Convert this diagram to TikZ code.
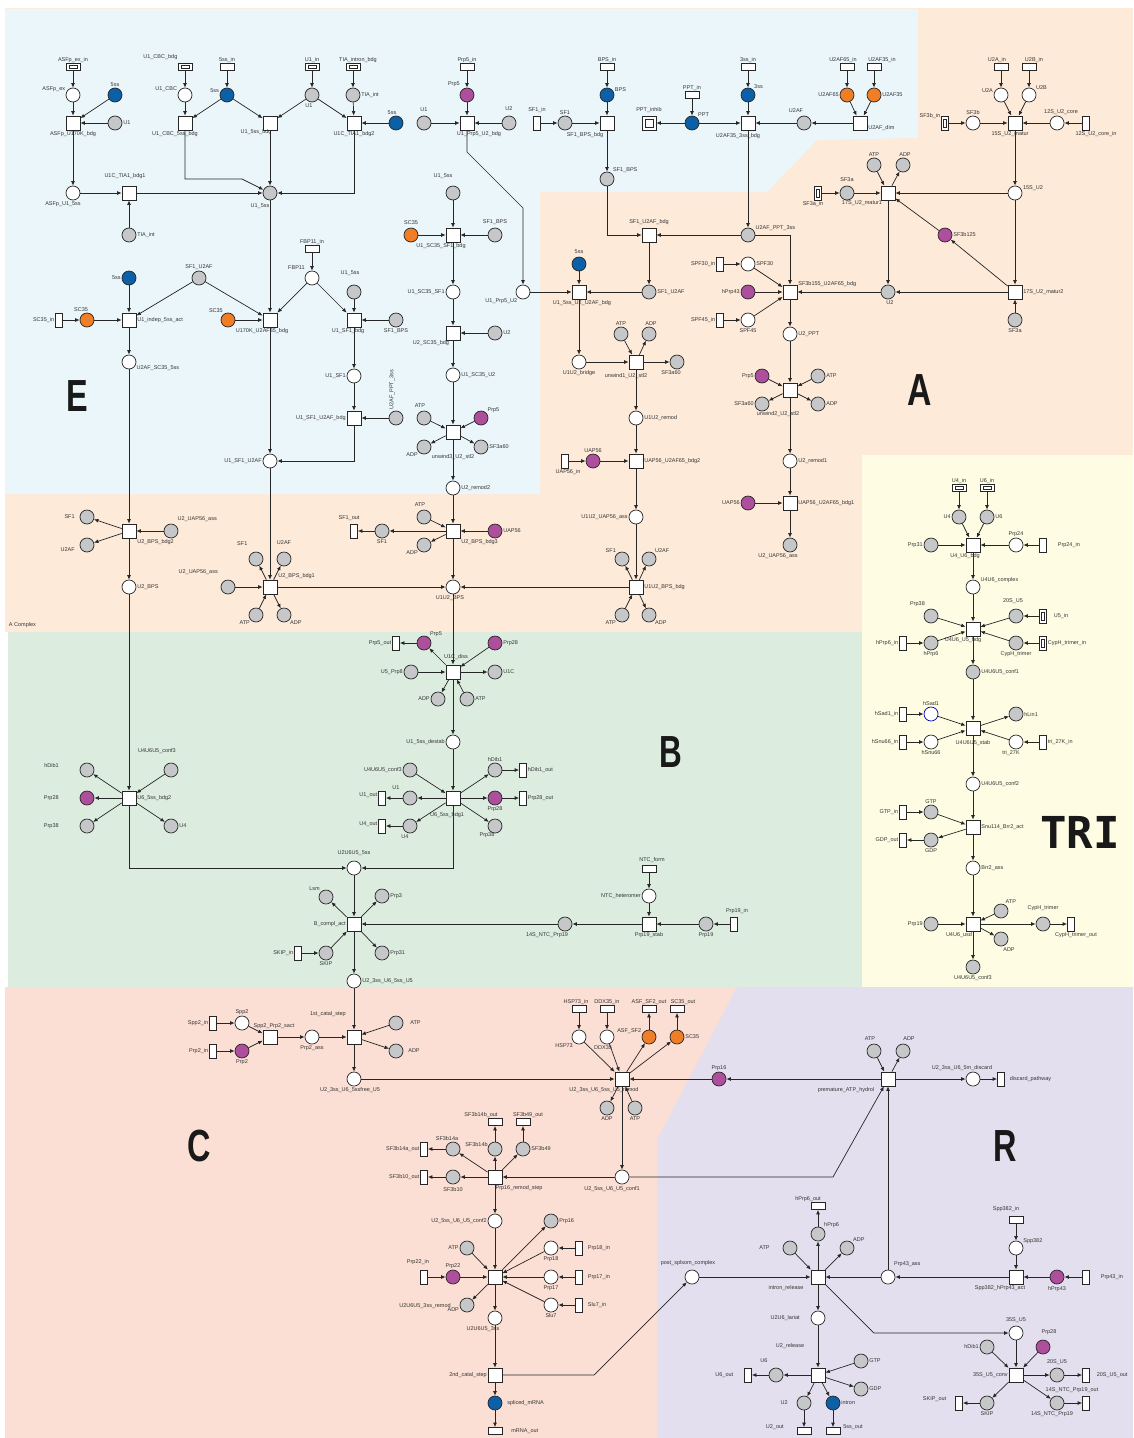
\documentclass[tikz,border=0pt]{standalone}
\usepackage{fontspec}
\setmainfont{Liberation Sans}
\newfontfamily\monobold{DejaVu Sans Mono}
\usetikzlibrary{arrows.meta}
\definecolor{tgray}{HTML}{C6C7C9}
\definecolor{tblue}{HTML}{0C60A8}
\definecolor{torange}{HTML}{F07E26}
\definecolor{tpurple}{HTML}{AE4F9D}
\definecolor{bgE}{HTML}{EBF6FB}
\definecolor{bgA}{HTML}{FDEAD9}
\definecolor{bgB}{HTML}{DCEDE0}
\definecolor{bgT}{HTML}{FEFDE4}
\definecolor{bgC}{HTML}{FBDED4}
\definecolor{bgR}{HTML}{E4DFEE}
\catcode`\_=12
\begin{document}
\begin{tikzpicture}[x=1pt,y=-1pt,
  lab/.style={font=\fontsize{5.5}{6.5}\selectfont, text=black!80, inner sep=0.8pt},
  lN/.style={label={[lab]90:#1}}, lS/.style={label={[lab]270:#1}},
  lW/.style={label={[lab]180:#1}}, lE/.style={label={[lab]0:#1}},
  lNW/.style={label={[lab]135:#1}}, lNE/.style={label={[lab]45:#1}},
  lSW/.style={label={[lab]225:#1}}, lSE/.style={label={[lab]315:#1}},
  nbase/.style={draw=black!85, line width=0.7pt, inner sep=0pt},
  place/.style={nbase, circle, minimum size=14pt},
  pw/.style={place, fill=white}, pg/.style={place, fill=tgray}, pbl/.style={place, fill=tblue},
  por/.style={place, fill=torange}, ppu/.style={place, fill=tpurple},
  trn/.style={nbase, rectangle, fill=white, minimum size=14pt},
  ioh/.style={nbase, rectangle, fill=white, minimum width=14pt, minimum height=7pt},
  iov/.style={nbase, rectangle, fill=white, minimum width=7pt, minimum height=14pt},
  inner box/.style 2 args={path picture={\draw[black!85, line width=0.5pt]
      ([shift={(#1,#2)}]path picture bounding box.south west) rectangle
      ([shift={(-#1,-#2)}]path picture bounding box.north east);}},
  iohd/.style={ioh, inner box={3pt}{2pt}},
  iovd/.style={iov, inner box={2pt}{3pt}},
  iosq/.style={trn, inner box={3pt}{3pt}},
  ar/.style={draw=black!85, line width=0.7pt, -{Latex[length=4.5pt,width=3.8pt]}},
  big/.style={font=\bfseries\fontsize{45}{45}\selectfont, text=black!90, inner sep=0pt}
]
\useasboundingbox (0,0) rectangle (1133,1438);
% ---------- background areas ----------
\fill[bgA] (5,8) rectangle (1133,632);
\fill[bgE] (5,9) -- (918,9) -- (918,138) -- (817,140) -- (767,192) -- (540,192) -- (540,494) -- (5,494) -- cycle;
\fill[bgB] (8,632) rectangle (863,987);
\fill[bgT] (862,455) rectangle (1133,987);
\fill[bgC] (5,987) rectangle (1133,1438);
\fill[bgR] (737,987) -- (1133,987) -- (1133,1438) -- (657,1438) -- (657,1140) -- cycle;

\node[big] (tE) at (77,396) {\scalebox{0.72}[1]{E}};
\node[big] (tA) at (920,390) {\scalebox{0.75}[1]{A}};
\node[big] (tB) at (671,752) {\scalebox{0.7}[1]{B}};
\node[big] (tC) at (199,1146) {\scalebox{0.72}[1]{C}};
\node[big] (tR) at (1005,1146) {\scalebox{0.72}[1]{R}};
\node[font=\monobold\bfseries\fontsize{44}{44}\selectfont, text=black!90, inner sep=0pt] (tT) at (1080,832) {TRI};
\node[lab, anchor=west] (acx) at (8,625) {A Complex};

% ---------- E complex ----------
\node[iohd, lN=ASFp_ex_in] (asfpin) at (73,67) {};
\node[pw, label={[lab]160:ASFp_ex}] (asfpex) at (73,95) {};
\node[pbl, lN=5ss] (s5a) at (115,95) {};
\node[pg, lE=U1] (u1a) at (115,123) {};
\node[trn, lS=ASFp_U170K_bdg] (asfpbdg) at (73,123) {};
\node[pw, label={[lab,xshift=-10pt]270:ASFp_U1_5ss}] (asfpu1) at (73,193) {};
\node[trn, label={[lab,yshift=6pt,xshift=-4pt]90:U1C_TIA1_bdg1}] (tiabdg1) at (129,193) {};
\node[pg, lE=TIA_int] (tiaint1) at (129,235) {};
\node[iohd, label={[lab,yshift=3pt]150:U1_CBC_bdg}] (u1cbcin) at (185,67) {};
\node[pw, label={[lab]160:U1_CBC}] (u1cbc) at (185,95) {};
\node[ioh, lN=5ss_in] (s5in) at (227,67) {};
\node[pbl, label={[lab]165:5ss}] (s5b) at (227,95) {};
\node[trn, label={[lab,xshift=-10pt]270:U1_CBC_5ss_bdg}] (u1cbcbdg) at (185,123) {};
\node[trn, label={[lab,xshift=-14pt,yshift=2pt]270:U1_5ss_bdg}] (u15bdg) at (270,123) {};
\node[iohd, lN=U1_in] (u1in) at (312,67) {};
\node[pg, label={[lab,xshift=-3pt]270:U1}] (u1b) at (312,95) {};
\node[iohd, label={[lab,xshift=5pt]90:TIA_intron_bdg}] (tiain) at (353,67) {};
\node[pg, lE=TIA_int] (tiaint2) at (353,95) {};
\node[trn, lS=U1C_TIA1_bdg2] (tiabdg2) at (354,123) {};
\node[pbl, label={[lab,xshift=-4pt]90:5ss}] (s5c) at (396,123) {};
\node[pg, label={[lab,xshift=-10pt,yshift=-2pt]270:U1_5ss}] (u15a) at (270,193) {};

\node[pbl, lW=5ss] (s5d) at (129,278) {};
\node[pg, lN=SF1_U2AF] (sf1u2afa) at (199,278) {};
\node[iov, lW=SC35_in] (sc35in) at (59,320) {};
\node[por, label={[lab,xshift=-6pt]90:SC35}] (sc35a) at (87,320) {};
\node[trn, lE=U1_indep_5ss_act] (u1indep) at (129,320) {};
\node[por, label={[lab]125:SC35}] (sc35b) at (228,320) {};
\node[trn, label={[lab,xshift=-8pt]270:U170K_U2AF35_bdg}] (u170k) at (270,320) {};
\node[ioh, lN=FBP11_in] (fbp11in) at (312,249) {};
\node[pw, label={[lab,yshift=4pt]150:FBP11}] (fbp11) at (312,278) {};
\node[pg, label={[lab,yshift=8pt,xshift=-4pt]90:U1_5ss}] (u15b) at (354,292) {};
\node[trn, label={[lab,xshift=-6pt]270:U1_SF1_bdg}] (u1sf1bdg) at (354,320) {};
\node[pw, label={[lab]-25:U2AF_SC35_5ss}] (u2afsc35) at (129,362) {};

\node[ioh, lN=Prp5_in] (prp5in) at (467,67) {};
\node[ppu, label={[lab,yshift=4pt]150:Prp5}] (prp5a) at (467,95) {};
\node[pg, label={[lab,yshift=3pt]90:U1}] (u1c) at (424,123) {};
\node[trn, label={[lab,xshift=12pt]270:U1_Prp5_U2_bdg}] (u1prp5bdg) at (467,123) {};
\node[pg, label={[lab,yshift=4pt]90:U2}] (u2a) at (509,123) {};
\node[iov, label={[lab,yshift=2pt]90:SF1_in}] (sf1in) at (537,123) {};
\node[pg, lN=SF1] (sf1a) at (565,123) {};
\node[ioh, lN=BPS_in] (bpsin) at (607,67) {};
\node[pbl, label={[lab]20:BPS}] (bps) at (607,95) {};
\node[trn, label={[lab,xshift=-22pt,yshift=-1pt]270:SF1_BPS_bdg}] (sf1bpsbdg) at (607,123) {};
\node[pg, lNE=SF1_BPS] (sf1bpsa) at (607,179) {};
\node[ioh, lN=PPT_in] (pptin) at (692,95) {};
\node[pbl, lNE=PPT] (ppt) at (692,123) {};
\node[iosq, label={[lab,yshift=2pt]90:PPT_inhib}] (pptinhib) at (649,123) {};
\node[ioh, lN=3ss_in] (s3in) at (748,67) {};
\node[pbl, lNE=3ss] (s3) at (748,95) {};
\node[trn, label={[lab,xshift=-10pt,yshift=-2pt]270:U2AF35_3ss_bdg}] (u2af35bdg) at (748,123) {};
\node[pg, label={[lab,xshift=-10pt,yshift=6pt]90:U1_5ss}] (u15c) at (453,193) {};
\node[por, label={[lab,yshift=2pt]90:SC35}] (sc35c) at (411,235) {};
\node[trn, label={[lab,xshift=-12pt]270:U1_SC35_SF1_bdg}] (u1sc35sf1bdg) at (453,235) {};
\node[pg, label={[lab,yshift=2pt]90:SF1_BPS}] (sf1bpsb) at (495,235) {};
\node[pw, lW=U1_SC35_SF1] (u1sc35sf1) at (453,292) {};
\node[pg, lS=SF1_BPS] (sf1bpsc) at (396,320) {};
\node[trn, label={[lab,xshift=-22pt,yshift=1pt]270:U2_SC35_bdg}] (u2sc35bdg) at (453,333) {};
\node[pg, lE=U2] (u2b) at (495,333) {};
\node[pw, label={[lab]230:U1_Prp5_U2}] (u1prp5u2) at (523,292) {};

% ---------- A complex ----------
\node[pg, label={[lab,xshift=-8pt,yshift=2pt]90:U2AF}] (u2afa) at (804,123) {};
\node[ioh, label={[lab,xshift=-4pt]90:U2AF65_in}] (u2af65in) at (847,67) {};
\node[ioh, label={[lab,xshift=8pt]90:U2AF35_in}] (u2af35in) at (874,67) {};
\node[por, lW=U2AF65] (u2af65) at (847,95) {};
\node[por, lE=U2AF35] (u2af35) at (874,95) {};
\node[trn, label={[lab]-10:U2AF_dim}] (u2afdim) at (860,123) {};
\node[ioh, label={[lab,xshift=-4pt]90:U2A_in}] (u2ain) at (1001,67) {};
\node[ioh, label={[lab,xshift=5pt]90:U2B_in}] (u2bin) at (1029,67) {};
\node[pw, label={[lab]165:U2A}] (u2aa) at (1001,95) {};
\node[pw, label={[lab]35:U2B}] (u2bb) at (1029,95) {};
\node[iovd, label={[lab]135:SF3b_in}] (sf3bin) at (945,123) {};
\node[pw, lN=SF3b] (sf3b) at (973,123) {};
\node[trn, label={[lab,xshift=-5pt]270:15S_U2_matur}] (m15) at (1015,123) {};
\node[pw, label={[lab,xshift=4pt]90:12S_U2_core}] (c12) at (1057,123) {};
\node[iov, label={[lab,xshift=10pt]270:12S_U2_core_in}] (c12in) at (1086,123) {};
\node[pg, lN=ATP] (atpa) at (874,165) {};
\node[pg, label={[lab,xshift=2pt]90:ADP}] (adpa) at (903,165) {};
\node[iovd, label={[lab,xshift=-5pt]270:SF3a_in}] (sf3ain) at (818,193) {};
\node[pg, label={[lab,yshift=3pt]90:SF3a}] (sf3a) at (847,193) {};
\node[trn, label={[lab,xshift=-26pt,yshift=1pt]270:17S_U2_matur1}] (m17a) at (888,193) {};
\node[pw, label={[lab]15:15S_U2}] (u215) at (1015,193) {};
\node[ppu, lE=SF3b125] (sf3b125) at (945,235) {};
\node[trn, label={[lab,yshift=2pt]90:SF1_U2AF_bdg}] (sf1u2afbdg) at (649,235) {};
\node[pg, label={[lab]25:U2AF_PPT_3ss}] (u2afppt) at (748,235) {};
\node[pbl, label={[lab,yshift=2pt]90:5ss}] (s5e) at (579,264) {};
\node[trn, label={[lab,xshift=3pt]270:U1_5ss_U2_U2AF_bdg}] (u1u2afbdg) at (579,292) {};
\node[pg, lE=SF1_U2AF] (sf1u2afb) at (649,292) {};
\node[iov, lW=SPF30_in] (spf30in) at (720,264) {};
\node[pw, lE=SPF30] (spf30) at (748,264) {};
\node[ppu, lW=hPrp43] (hprp43a) at (748,292) {};
\node[iov, lW=SPF45_in] (spf45in) at (720,320) {};
\node[pw, lS=SPF45] (spf45) at (748,320) {};
\node[trn, label={[lab]30:SF3b155_U2AF65_bdg}] (sf3b155) at (790,292) {};
\node[pg, label={[lab,xshift=2pt]270:U2}] (u2c) at (888,292) {};
\node[trn, lE=17S_U2_matur2] (m17b) at (1015,292) {};
\node[pg, lS=SF3a] (sf3aa) at (1015,320) {};
\node[pw, lE=U2_PPT] (u2ppt) at (790,334) {};
\node[pg, lN=ATP] (atpb) at (621,334) {};
\node[pg, label={[lab,xshift=2pt]90:ADP}] (adpb) at (649,334) {};

\node[pw, lW=U1_SF1] (u1sf1) at (354,376) {};
\node[trn, lW=U1_SF1_U2AF_bdg] (u1sf1u2afbdg) at (354,418) {};
\node[pg, label={[lab,rotate=90,anchor=west,label distance=4pt]90:U2AF_PPT_3ss}] (u2afppt2) at (396,418) {};
\node[pw, lW=U1_SF1_U2AF] (u1sf1u2af) at (270,461) {};
\node[pw, lE=U1_SC35_U2] (u1sc35u2) at (453,375) {};
\node[pg, label={[lab,xshift=-4pt,yshift=2pt]90:ATP}] (atpc) at (424,418) {};
\node[ppu, label={[lab]40:Prp5}] (prp5b) at (481,418) {};
\node[trn, label={[lab,yshift=-14pt]270:unwind3_U2_stl2}] (unw3) at (453,432) {};
\node[pg, lSW=ADP] (adpc) at (424,447) {};
\node[pg, lE=SF3a60] (sf3a60a) at (481,447) {};
\node[pw, lE=U2_remod2] (u2remod2) at (453,488) {};
\node[pg, label={[lab,xshift=-4pt,yshift=2pt]90:ATP}] (atpd) at (424,517) {};
\node[trn, lSE=U2_BPS_bdg3] (bdg3) at (453,531) {};
\node[pg, lSW=ADP] (adpd) at (424,545) {};
\node[ppu, lE=UAP56] (uap56a) at (495,531) {};
\node[pg, lS=SF1] (sf1b) at (382,531) {};
\node[iov, label={[lab,xshift=-5pt,yshift=2pt]90:SF1_out}] (sf1out) at (354,531) {};
\node[pw, label={[lab,xshift=-3pt]270:U1U2_BPS}] (u1u2bps) at (453,587) {};
\node[pw, lS=U1U2_bridge] (u1u2bridge) at (579,362) {};
\node[trn, label={[lab,xshift=-10pt,yshift=-3pt]270:unwind1_U2_stl2}] (unw1) at (636,362) {};
\node[pg, label={[lab,xshift=-6pt]270:SF3a60}] (sf3a60b) at (677,362) {};
\node[pw, lE=U1U2_remod] (u1u2remod) at (636,418) {};
\node[iov, label={[lab,xshift=3pt]270:UAP56_in}] (uap56in) at (565,461) {};
\node[ppu, lN=UAP56] (uap56b) at (593,461) {};
\node[trn, lE=UAP56_U2AF65_bdg2] (uapbdg2) at (636,461) {};
\node[pw, lW=U1U2_UAP56_ass] (u1u2uap) at (636,517) {};
\node[trn, lE=U1U2_BPS_bdg] (u1u2bpsbdg) at (636,587) {};
\node[pg, lNW=SF1] (sf1c) at (622,559) {};
\node[pg, lNE=U2AF] (u2afb) at (649,559) {};
\node[pg, lSW=ATP] (atpe) at (622,615) {};
\node[pg, lSE=ADP] (adpe) at (649,615) {};

\node[ppu, lW=Prp5] (prp5c) at (762,376) {};
\node[trn, label={[lab,xshift=-12pt,yshift=-13pt]270:unwind2_U2_stl2}] (unw2) at (790,390) {};
\node[pg, lE=ATP] (atpf) at (818,376) {};
\node[pg, lW=SF3a60] (sf3a60c) at (762,404) {};
\node[pg, lE=ADP] (adpf) at (818,404) {};
\node[pw, lE=U2_remod1] (u2remod1) at (790,461) {};
\node[ppu, lW=UAP56] (uap56c) at (748,503) {};
\node[trn, lE=UAP56_U2AF65_bdg1] (uapbdg1) at (790,503) {};
\node[pg, label={[lab,xshift=-12pt]270:U2_UAP56_ass}] (u2uapa) at (790,545) {};

\node[trn, lSE=U2_BPS_bdg2] (u2bpsbdg2) at (129,531) {};
\node[pg, label={[lab,xshift=-4pt]180:SF1}] (sf1d) at (87,517) {};
\node[pg, label={[lab,xshift=-4pt]190:U2AF}] (u2afc) at (87,545) {};
\node[pg, label={[lab,yshift=4pt]40:U2_UAP56_ass}] (u2uapb) at (171,531) {};
\node[pw, lE=U2_BPS] (u2bps) at (129,587) {};
\node[trn, lNE=U2_BPS_bdg1] (u2bpsbdg1) at (270,587) {};
\node[pg, label={[lab,yshift=6pt,xshift=-4pt]120:SF1}] (sf1e) at (256,559) {};
\node[pg, label={[lab,yshift=6pt]90:U2AF}] (u2afd) at (284,559) {};
\node[pg, label={[lab,yshift=6pt,xshift=-4pt]135:U2_UAP56_ass}] (u2uapc) at (228,587) {};
\node[pg, lSW=ATP] (atpg) at (256,615) {};
\node[pg, lSE=ADP] (adpg) at (284,615) {};

% ---------- B complex ----------
\node[trn, label={[lab,yshift=4pt,xshift=3pt]90:U1C_diss}] (u1cdiss) at (453,672) {};
\node[ppu, lNE=Prp5] (prp5d) at (424,643) {};
\node[iov, lW=Prp5_out] (prp5out) at (396,643) {};
\node[ppu, lE=Prp28] (prp28a) at (495,643) {};
\node[pg, lW=U5_Prp8] (u5prp8) at (411,672) {};
\node[pg, lE=U1C] (u1cc) at (495,672) {};
\node[pg, lW=ADP] (adph) at (438,699) {};
\node[pg, lE=ATP] (atph) at (467,699) {};
\node[pw, lW=U1_5ss_destab] (u15destab) at (453,742) {};
\node[trn, label={[lab,xshift=-6pt,yshift=-6pt]270:U6_5ss_bdg1}] (u6bdg1) at (453,798) {};
\node[pg, lW=U4U6U5_conf3] (u4u6u5c3a) at (410,770) {};
\node[pg, lN=hDib1] (hdib1a) at (495,770) {};
\node[iov, lE=hDib1_out] (hdib1out) at (523,770) {};
\node[pg, label={[lab,xshift=-14pt]90:U1}] (u1d) at (410,798) {};
\node[iov, label={[lab,yshift=3pt]180:U1_out}] (u1out) at (382,798) {};
\node[ppu, lS=Prp28] (prp28b) at (495,798) {};
\node[iov, lE=Prp28_out] (prp28out) at (523,798) {};
\node[pg, label={[lab,xshift=-5pt]270:U4}] (u4a) at (410,826) {};
\node[iov, label={[lab,yshift=2pt]180:U4_out}] (u4out) at (382,826) {};
\node[pg, label={[lab,xshift=-8pt,yshift=2pt]270:Prp38}] (prp38a) at (495,826) {};
\node[trn, lE=U6_5ss_bdg2] (u6bdg2) at (129,798) {};
\node[pg, label={[lab,xshift=-20pt,yshift=4pt]180:hDib1}] (hdib1b) at (87,770) {};
\node[pg, label={[lab,yshift=8pt,xshift=-14pt]90:U4U6U5_conf3}] (u4u6u5c3b) at (171,770) {};
\node[ppu, label={[lab,xshift=-20pt]180:Prp28}] (prp28c) at (87,798) {};
\node[pg, label={[lab,xshift=-20pt]180:Prp38}] (prp38b) at (87,826) {};
\node[pg, lE=U4] (u4b) at (171,826) {};
\node[pw, label={[lab,yshift=4pt]90:U2U6U5_5ss}] (u2u6u5) at (354,868) {};
\node[trn, lW=B_compl_act] (bcompl) at (354,924) {};
\node[pg, lNW=Lsm] (lsm) at (326,897) {};
\node[pg, lE=Prp3] (prp3) at (382,896) {};
\node[pg, lE=Prp31] (prp31a) at (382,953) {};
\node[iov, lW=SKIP_in] (skipin) at (298,953) {};
\node[pg, lS=SKIP] (skip) at (326,953) {};
\node[pg, label={[lab,xshift=-18pt]270:14S_NTC_Prp19}] (ntc14) at (565,924) {};
\node[pw, lE=U2_3ss_U6_5ss_U5] (u23) at (354,981) {};
\node[ioh, label={[lab,xshift=3pt,yshift=2pt]90:NTC_form}] (ntcform) at (649,869) {};
\node[pw, lW=NTC_heteromer] (ntchet) at (649,896) {};
\node[trn, lS=Prp19_stab] (prp19stab) at (649,924) {};
\node[pg, lS=Prp19] (prp19a) at (706,924) {};
\node[iov, label={[lab,xshift=3pt,yshift=2pt]90:Prp19_in}] (prp19in) at (734,924) {};

% ---------- tri-snRNP ----------
\node[iohd, lN=U4_in] (u4in) at (959,488) {};
\node[iohd, lN=U6_in] (u6in) at (987,488) {};
\node[pg, lW=U4] (u4c) at (959,517) {};
\node[pg, lE=U6] (u6c) at (987,517) {};
\node[trn, label={[lab,xshift=-8pt]270:U4_U6_bdg}] (u4u6bdg) at (973,545) {};
\node[pg, lW=Prp31] (prp31b) at (931,545) {};
\node[pw, lN=Prp24] (prp24) at (1016,545) {};
\node[iov, label={[lab,xshift=10pt]0:Prp24_in}] (prp24in) at (1043,545) {};
\node[pw, label={[lab]25:U4U6_complex}] (u4u6cx) at (973,587) {};
\node[pg, label={[lab,yshift=3pt]135:Prp38}] (prp38c) at (931,616) {};
\node[pg, label={[lab,yshift=4pt,xshift=-3pt]90:20S_U5}] (s20u5) at (1016,616) {};
\node[iovd, label={[lab,xshift=6pt]0:U5_in}] (u5in) at (1043,616) {};
\node[trn, label={[lab,xshift=-10pt]270:U4U6_U5_bdg}] (u4u6u5bdg) at (973,629) {};
\node[iov, lW=hPrp6_in] (hprp6in) at (903,643) {};
\node[pg, lS=hPrp6] (hprp6a) at (931,643) {};
\node[pg, lS=CypH_trimer] (cyph) at (1016,643) {};
\node[iovd, lE=CypH_trimer_in] (cyphin) at (1043,643) {};
\node[pg, lE=U4U6U5_conf1] (c1) at (973,672) {};
\node[iov, lW=hSad1_in] (hsad1in) at (903,714) {};
\node[pw, draw=blue!70!black, lN=hSad1] (hsad1) at (931,714) {};
\node[trn, label={[lab,yshift=-4pt]270:U4U6U5_stab}] (stab) at (973,728) {};
\node[pg, lE=hLin1] (hlin1) at (1016,714) {};
\node[iov, lW=hSnu66_in] (hsnu66in) at (903,742) {};
\node[pw, lS=hSnu66] (hsnu66) at (931,742) {};
\node[pw, label={[lab,xshift=-5pt]270:tri_27K}] (tri27k) at (1016,742) {};
\node[iov, lE=tri_27K_in] (tri27kin) at (1043,742) {};
\node[pw, lE=U4U6U5_conf2] (c2) at (973,784) {};
\node[iov, lW=GTP_in] (gtpin) at (903,812) {};
\node[pg, lN=GTP] (gtpa) at (931,812) {};
\node[trn, lE=Snu114_Brr2_act] (snu) at (973,827) {};
\node[iov, lW=GDP_out] (gdpout) at (903,840) {};
\node[pg, lS=GDP] (gdpa) at (931,840) {};
\node[pw, lE=Brr2_ass] (brr2) at (973,868) {};
\node[pg, label={[lab]60:ATP}] (atpi) at (1001,911) {};
\node[pg, label={[lab,yshift=5pt]90:CypH_trimer}] (cyph2) at (1043,924) {};
\node[iov, label={[lab,xshift=5pt]270:CypH_trimer_out}] (cyphout) at (1071,924) {};
\node[pg, lW=Prp19] (prp19b) at (931,924) {};
\node[trn, label={[lab,xshift=-14pt]270:U4U6_usd}] (usd) at (973,924) {};
\node[pg, label={[lab,xshift=8pt]270:ADP}] (adpi) at (1001,939) {};
\node[pg, lS=U4U6U5_conf3] (c3) at (973,967) {};

% ---------- C complex ----------
\node[iov, lW=Spp2_in] (spp2in) at (213,1023) {};
\node[pw, lN=Spp2] (spp2) at (242,1023) {};
\node[trn, label={[lab,xshift=4pt]90:Spp2_Prp2_sact}] (sact) at (270,1037) {};
\node[iov, lW=Prp2_in] (prp2in) at (213,1051) {};
\node[ppu, lS=Prp2] (prp2) at (242,1051) {};
\node[pw, lS=Prp2_ass] (prp2ass) at (312,1037) {};
\node[trn, label={[lab,yshift=12pt]135:1st_catal_step}] (cat1) at (354,1037) {};
\node[pg, label={[lab,xshift=6pt]0:ATP}] (atpj) at (396,1023) {};
\node[pg, label={[lab,xshift=4pt]0:ADP}] (adpj) at (396,1051) {};
\node[pw, label={[lab,xshift=-4pt]270:U2_3ss_U6_5ssfree_U5}] (free) at (354,1079) {};
\node[ioh, label={[lab,xshift=-3pt]90:HSP73_in}] (hsp73in) at (579,1009) {};
\node[ioh, lN=DDX35_in] (ddx35in) at (607,1009) {};
\node[ioh, lN=ASF_SF2_out] (asfout) at (649,1009) {};
\node[ioh, label={[lab,xshift=6pt]90:SC35_out}] (sc35out) at (677,1009) {};
\node[pw, lSW=HSP73] (hsp73) at (579,1037) {};
\node[pw, label={[lab,xshift=-4pt]270:DDX35}] (ddx35) at (607,1037) {};
\node[por, label={[lab]160:ASF_SF2}] (asf) at (649,1037) {};
\node[por, lE=SC35] (sc35d) at (677,1037) {};
\node[trn, label={[lab,xshift=-18pt]270:U2_3ss_U6_5ss_U5_remod}] (remod) at (622,1079) {};
\node[pg, lS=ADP] (adpk) at (607,1108) {};
\node[pg, lS=ATP] (atpk) at (635,1108) {};
\node[ppu, lN=Prp16] (prp16a) at (719,1079) {};
\node[trn, label={[lab,xshift=-42pt]270:premature_ATP_hydrol}] (prem) at (888,1079) {};
\node[pg, label={[lab,xshift=-4pt,yshift=2pt]90:ATP}] (atpl) at (874,1051) {};
\node[pg, label={[lab,xshift=6pt,yshift=2pt]90:ADP}] (adpl) at (903,1051) {};
\node[pw, label={[lab,xshift=-11pt]90:U2_3ss_U6_5m_discard}] (discard) at (973,1079) {};
\node[iov, label={[lab,xshift=4pt]0:discard_pathway}] (discardp) at (1001,1079) {};
\node[pw, label={[lab,xshift=-10pt,yshift=-1pt]270:U2_5ss_U6_U5_conf1}] (conf1) at (622,1177) {};
\node[trn, label={[lab,xshift=24pt]270:Prp16_remod_step}] (p16step) at (495,1177) {};
\node[iov, lW=SF3b14a_out] (sf3b14aout) at (424,1149) {};
\node[pg, label={[lab,xshift=-6pt]90:SF3b14a}] (sf3b14a) at (453,1149) {};
\node[pg, label={[lab,yshift=-2pt]150:SF3b14b}] (sf3b14b) at (495,1149) {};
\node[ioh, label={[lab,xshift=-14pt]90:SF3b14b_out}] (sf3b14bout) at (495,1122) {};
\node[pg, lE=SF3b49] (sf3b49) at (523,1149) {};
\node[ioh, label={[lab,xshift=5pt]90:SF3b49_out}] (sf3b49out) at (523,1122) {};
\node[iov, lW=SF3b10_out] (sf3b10out) at (424,1177) {};
\node[pg, label={[lab,yshift=-2pt]270:SF3b10}] (sf3b10) at (453,1177) {};
\node[pw, lW=U2_5ss_U6_U5_conf2] (conf2) at (495,1221) {};
\node[trn, label={[lab,xshift=-70pt,yshift=-18pt]270:U2U6U5_3ss_remod}] (r3) at (495,1277) {};
\node[pg, lW=ATP] (atpm) at (467,1248) {};
\node[iov, label={[lab,xshift=-6pt,yshift=4pt]90:Prp22_in}] (prp22in) at (424,1277) {};
\node[ppu, lN=Prp22] (prp22) at (453,1277) {};
\node[pg, label={[lab]195:ADP}] (adpm) at (467,1305) {};
\node[pg, lE=Prp16] (prp16b) at (551,1221) {};
\node[pw, lS=Prp18] (prp18) at (551,1248) {};
\node[iov, label={[lab,xshift=4pt]0:Prp18_in}] (prp18in) at (579,1248) {};
\node[pw, lS=Prp17] (prp17) at (551,1277) {};
\node[iov, label={[lab,xshift=4pt]0:Prp17_in}] (prp17in) at (579,1277) {};
\node[pw, lS=Slu7] (slu7) at (551,1305) {};
\node[iov, label={[lab,xshift=4pt]0:Slu7_in}] (slu7in) at (579,1305) {};
\node[pw, label={[lab,xshift=-12pt]270:U2U6U5_3ss}] (u2u6u53) at (495,1318) {};
\node[trn, lW=2nd_catal_step] (cat2) at (495,1375) {};
\node[pbl, label={[lab,xshift=4pt]0:spliced_mRNA}] (mrna) at (495,1403) {};
\node[ioh, label={[lab,xshift=8pt]0:mRNA_out}] (mrnaout) at (495,1431) {};
\node[pw, label={[lab,yshift=3pt,xshift=-4pt]90:post_splsom_complex}] (post) at (692,1277) {};

% ---------- release ----------
\node[trn, label={[lab,xshift=-32pt]270:intron_release}] (irel) at (818,1277) {};
\node[ioh, label={[lab,xshift=-10pt]90:hPrp6_out}] (hprp6out) at (818,1206) {};
\node[pg, lNE=hPrp6] (hprp6b) at (818,1234) {};
\node[pg, label={[lab,xshift=-12pt]180:ATP}] (atpn) at (790,1248) {};
\node[pg, lNE=ADP] (adpn) at (847,1248) {};
\node[pw, label={[lab,yshift=4pt]45:Prp43_ass}] (prp43ass) at (888,1277) {};
\node[ioh, label={[lab,xshift=-10pt,yshift=4pt]90:Spp382_in}] (spp382in) at (1016,1220) {};
\node[pw, label={[lab]30:Spp382}] (spp382) at (1016,1248) {};
\node[trn, label={[lab,xshift=-16pt]270:Spp382_hPrp43_act}] (spp382act) at (1016,1277) {};
\node[ppu, label={[lab,yshift=-1pt]270:hPrp43}] (hprp43b) at (1057,1277) {};
\node[iov, label={[lab,xshift=10pt]0:Prp43_in}] (prp43in) at (1086,1277) {};
\node[pw, label={[lab,xshift=-10pt]180:U2U6_lariat}] (lariat) at (818,1318) {};
\node[pw, label={[lab,yshift=2pt]90:35S_U5}] (s35u5) at (1016,1333) {};
\node[trn, label={[lab,xshift=-28pt,yshift=18pt]90:U2_release}] (u2rel) at (818,1375) {};
\node[pg, label={[lab,xshift=-12pt,yshift=4pt]90:U6}] (u6d) at (776,1375) {};
\node[iov, label={[lab,xshift=-10pt]180:U6_out}] (u6out) at (748,1375) {};
\node[pg, lE=GTP] (gtpb) at (861,1361) {};
\node[pg, lE=GDP] (gdpb) at (861,1389) {};
\node[pg, label={[lab,xshift=-8pt]180:U2}] (u2d) at (804,1403) {};
\node[pbl, lE=intron] (intron) at (833,1403) {};
\node[ioh, label={[lab,xshift=-12pt,yshift=4pt]180:U2_out}] (u2out) at (804,1431) {};
\node[ioh, label={[lab,xshift=2pt,yshift=4pt]0:5ss_out}] (ss5out) at (833,1431) {};
\node[trn, lW=35S_U5_conv] (conv) at (1016,1375) {};
\node[pg, lW=hDib1] (hdib1c) at (987,1347) {};
\node[ppu, label={[lab,xshift=6pt,yshift=4pt]90:Prp28}] (prp28d) at (1043,1347) {};
\node[pg, label={[lab,yshift=2pt]90:20S_U5}] (s20u5b) at (1057,1375) {};
\node[iov, label={[lab,xshift=6pt]0:20S_U5_out}] (s20out) at (1086,1375) {};
\node[pg, lS=SKIP] (skipb) at (987,1403) {};
\node[iov, label={[lab,xshift=-8pt,yshift=4pt]180:SKIP_out}] (skipout) at (959,1403) {};
\node[pg, label={[lab,xshift=-5pt]270:14S_NTC_Prp19}] (ntc14b) at (1057,1403) {};
\node[iov, label={[lab,xshift=-14pt,yshift=2pt]90:14S_NTC_Prp19_out}] (ntcout) at (1086,1403) {};

% ---------- straight arcs ----------
\foreach \a/\b in {
 asfpin/asfpex, asfpex/asfpbdg, s5a/asfpbdg, u1a/asfpbdg, asfpbdg/asfpu1, asfpu1/tiabdg1, tiaint1/tiabdg1, tiabdg1/u15a,
 u1cbcin/u1cbc, u1cbc/u1cbcbdg, s5in/s5b, s5b/u1cbcbdg, s5b/u15bdg, u1in/u1b, u1b/u15bdg, u1b/tiabdg2,
 tiain/tiaint2, tiaint2/tiabdg2, s5c/tiabdg2, u15bdg/u15a, u15a/u170k,
 s5d/u1indep, sf1u2afa/u1indep, sf1u2afa/u170k, sc35in/sc35a, sc35a/u1indep, sc35b/u170k, fbp11in/fbp11,
 fbp11/u170k, fbp11/u1sf1bdg, u15b/u1sf1bdg, sf1bpsc/u1sf1bdg, u1indep/u2afsc35, u1sf1bdg/u1sf1,
 u1sf1/u1sf1u2afbdg, u2afppt2/u1sf1u2afbdg, u170k/u1sf1u2af, u1sf1u2af/u2bpsbdg1, u2afsc35/u2bpsbdg2,
 prp5in/prp5a, prp5a/u1prp5bdg, u1c/u1prp5bdg, u2a/u1prp5bdg, u1prp5u2/u1u2afbdg,
 sf1in/sf1a, sf1a/sf1bpsbdg, bpsin/bps, bps/sf1bpsbdg, sf1bpsbdg/sf1bpsa,
 pptin/ppt, ppt/pptinhib, ppt/u2af35bdg, s3in/s3, s3/u2af35bdg, u2afa/u2af35bdg, u2afdim/u2afa,
 u2af65in/u2af65, u2af35in/u2af35, u2af65/u2afdim, u2af35/u2afdim, u2af35bdg/u2afppt, u2afppt/sf1u2afbdg,
 sf1u2afbdg/sf1u2afb, sf1u2afb/u1u2afbdg, s5e/u1u2afbdg, u1u2afbdg/u1u2bridge,
 u15c/u1sc35sf1bdg, sc35c/u1sc35sf1bdg, sf1bpsb/u1sc35sf1bdg, u1sc35sf1bdg/u1sc35sf1, u1sc35sf1/u2sc35bdg,
 u2b/u2sc35bdg, u2sc35bdg/u1sc35u2,
 u2ain/u2aa, u2bin/u2bb, u2aa/m15, u2bb/m15, sf3bin/sf3b, sf3b/m15, c12in/c12, c12/m15, m15/u215,
 u215/m17a, u215/m17b, atpa/m17a, m17a/adpa, sf3ain/sf3a, sf3a/m17a, m17a/u2c, m17b/u2c, m17b/sf3b125,
 sf3b125/m17a, sf3aa/m17b, u2c/sf3b155, spf30in/spf30, spf30/sf3b155, hprp43a/sf3b155, spf45in/spf45,
 spf45/sf3b155, sf3b155/u2ppt, u2ppt/unw2,
 prp5c/unw2, atpf/unw2, unw2/sf3a60c, unw2/adpf, unw2/u2remod1, u2remod1/uapbdg1, uap56c/uapbdg1, uapbdg1/u2uapa,
 u1u2bridge/unw1, atpb/unw1, unw1/adpb, unw1/sf3a60b, unw1/u1u2remod, u1u2remod/uapbdg2, uap56in/uap56b,
 uap56b/uapbdg2, uapbdg2/u1u2uap, u1u2uap/u1u2bpsbdg, u1u2bpsbdg/sf1c, u1u2bpsbdg/u2afb, atpe/u1u2bpsbdg,
 u1u2bpsbdg/adpe, u1u2bpsbdg/u1u2bps,
 u1sc35u2/unw3, atpc/unw3, prp5b/unw3, unw3/adpc, unw3/sf3a60a, unw3/u2remod2, u2remod2/bdg3, atpd/bdg3,
 bdg3/adpd, uap56a/bdg3, bdg3/sf1b, sf1b/sf1out, bdg3/u1u2bps,
 u2uapb/u2bpsbdg2, u2bpsbdg2/sf1d, u2bpsbdg2/u2afc, u2bpsbdg2/u2bps, u2bps/u6bdg2,
 u2uapc/u2bpsbdg1, atpg/u2bpsbdg1, u2bpsbdg1/sf1e, u2bpsbdg1/u2afd, u2bpsbdg1/adpg, u2bpsbdg1/u1u2bps,
 u1u2bps/u1cdiss, prp28a/u1cdiss, atph/u1cdiss, u1cdiss/prp5d, prp5d/prp5out, u5prp8/u1cdiss, u1cdiss/u1cc,
 u1cdiss/adph, u1cdiss/u15destab, u15destab/u6bdg1, u4u6u5c3a/u6bdg1, u6bdg1/hdib1a, hdib1a/hdib1out,
 u6bdg1/u1d, u1d/u1out, u6bdg1/prp28b, prp28b/prp28out, u6bdg1/u4a, u4a/u4out, u6bdg1/prp38a,
 u4u6u5c3b/u6bdg2, u6bdg2/hdib1b, u6bdg2/prp28c, u6bdg2/prp38b, u6bdg2/u4b,
 u2u6u5/bcompl, bcompl/lsm, bcompl/prp3, bcompl/prp31a, skipin/skip, skip/bcompl, ntc14/bcompl, bcompl/u23,
 ntcform/ntchet, ntchet/prp19stab, prp19in/prp19a, prp19a/prp19stab, prp19stab/ntc14,
 u4in/u4c, u6in/u6c, u4c/u4u6bdg, u6c/u4u6bdg, prp31b/u4u6bdg, prp24in/prp24, prp24/u4u6bdg, u4u6bdg/u4u6cx,
 u4u6cx/u4u6u5bdg, prp38c/u4u6u5bdg, u5in/s20u5, s20u5/u4u6u5bdg, hprp6in/hprp6a, hprp6a/u4u6u5bdg,
 cyphin/cyph, cyph/u4u6u5bdg, u4u6u5bdg/c1, c1/stab, hsad1in/hsad1, hsad1/stab, hsnu66in/hsnu66, hsnu66/stab,
 stab/hlin1, tri27kin/tri27k, tri27k/stab, stab/c2, c2/snu, gtpin/gtpa, gtpa/snu, snu/gdpa, gdpa/gdpout,
 snu/brr2, brr2/usd, prp19b/usd, atpi/usd, usd/adpi, usd/cyph2, cyph2/cyphout, usd/c3,
 u23/cat1, spp2in/spp2, spp2/sact, prp2in/prp2, prp2/sact, sact/prp2ass, prp2ass/cat1, atpj/cat1, cat1/adpj,
 cat1/free, hsp73in/hsp73, ddx35in/ddx35, hsp73/remod, ddx35/remod, remod/asf, asf/asfout, remod/sc35d,
 sc35d/sc35out, remod/adpk, atpk/remod, prem/prp16a, prp16a/remod, remod/conf1, atpl/prem, prem/adpl,
 prem/discard, discard/discardp, conf1/p16step, p16step/sf3b14a, sf3b14a/sf3b14aout, p16step/sf3b14b,
 sf3b14b/sf3b14bout, p16step/sf3b49, sf3b49/sf3b49out, p16step/sf3b10, sf3b10/sf3b10out, p16step/conf2,
 conf2/r3, atpm/r3, prp22in/prp22, prp22/r3, r3/adpm, r3/prp16b, prp18/r3, prp18in/prp18, prp17/r3,
 prp17in/prp17, slu7/r3, slu7in/slu7, r3/u2u6u53, u2u6u53/cat2, cat2/mrna, mrna/mrnaout, post/irel,
 atpn/irel, irel/adpn, irel/hprp6b, hprp6b/hprp6out, prp43ass/irel, prp43ass/prem, spp382act/prp43ass,
 spp382in/spp382, spp382/spp382act, prp43in/hprp43b, hprp43b/spp382act, irel/lariat, lariat/u2rel,
 u2rel/u6d, u6d/u6out, gtpb/u2rel, u2rel/gdpb, u2rel/u2d, u2d/u2out, u2rel/intron, intron/ss5out,
 s35u5/conv, hdib1c/conv, prp28d/conv, conv/s20u5b, s20u5b/s20out, conv/skipb, skipb/skipout,
 conv/ntc14b, ntc14b/ntcout, free/remod}
 \draw[ar] (\a) -- (\b);

% ---------- routed arcs ----------
\draw[ar] (u1cbcbdg) -- (185,179) -- (242,179) -- (u15a);
\draw[ar] (tiabdg2) -- (354,193) -- (u15a);
\draw[ar] (u1sf1u2afbdg) -- (354,461) -- (u1sf1u2af);
\draw[ar] (u1prp5bdg) -- (467,152) -- (523,208) -- (u1prp5u2);
\draw[ar] (sf1bpsa) -- (607,235) -- (sf1u2afbdg);
\draw[ar] (u2afppt) -- (790,235) -- (sf3b155);
\draw[ar] (u6bdg1) -- (453,868) -- (u2u6u5);
\draw[ar] (u6bdg2) -- (129,868) -- (u2u6u5);
\draw[ar] (conf1) -- (833,1177) -- (prem);
\draw[ar] (cat2) -- (594,1375) -- (post);
\draw[ar] (irel) -- (874,1333) -- (s35u5);
\end{tikzpicture}
\end{document}
